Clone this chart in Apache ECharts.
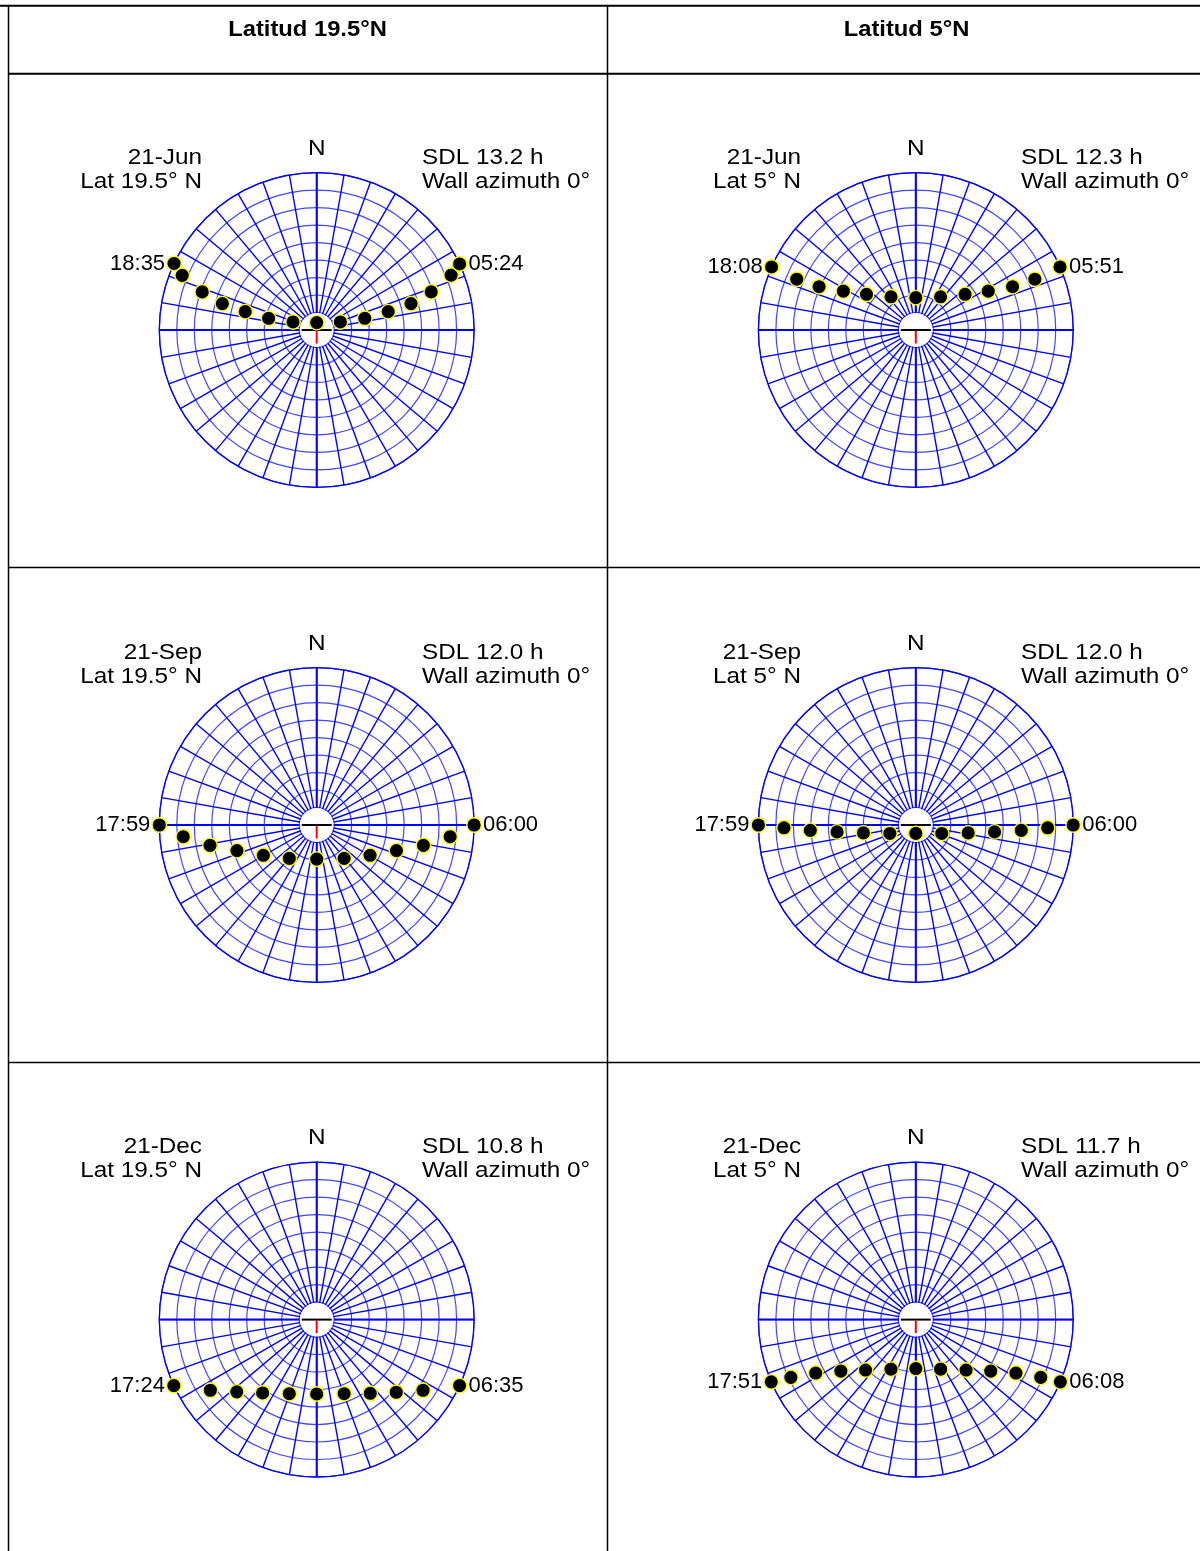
<!DOCTYPE html>
<html><head><meta charset="utf-8">
<script src="https://cdn.jsdelivr.net/npm/echarts@6/dist/echarts.min.js"></script>
<style>html,body{margin:0;padding:0;background:#fff}#c{width:1200px;height:1551px}</style>
</head><body><div id="c"></div>
<script>
// ---- DATA ----
const columnTitles = ['Latitud 19.5°N', 'Latitud 5°N'];
const dateLabels = ['21-Jun', '21-Jun', '21-Sep', '21-Sep', '21-Dec', '21-Dec'];
const latLabels = ['Lat 19.5° N', 'Lat 5° N', 'Lat 19.5° N', 'Lat 5° N', 'Lat 19.5° N', 'Lat 5° N'];
const sdlLabels = ['SDL 13.2 h', 'SDL 12.3 h', 'SDL 12.0 h', 'SDL 12.0 h', 'SDL 10.8 h', 'SDL 11.7 h'];
const wallLabels = ['Wall azimuth 0°', 'Wall azimuth 0°', 'Wall azimuth 0°', 'Wall azimuth 0°', 'Wall azimuth 0°', 'Wall azimuth 0°'];
const riseTimes = ['05:24', '05:51', '06:00', '06:00', '06:35', '06:08'];
const setTimes = ['18:35', '18:08', '17:59', '17:59', '17:24', '17:51'];

// Sun positions, sunrise -> sunset: azimuth (deg from N, clockwise), altitude (deg)
const jun195Az  = [65.2, 67.8, 71.6, 74.4, 75.6, 76.3, 71.3, 0, 288.7, 283.7, 284.4, 285.6, 288.4, 292.1, 295.0];
const jun195Alt = [0, 7.0, 21.0, 34.0, 47.8, 61.7, 75.7, 85.8, 75.7, 61.7, 47.8, 34.0, 21.0, 7.0, 0];
const jun5Az    = [66.4, 66.9, 65.9, 61.8, 54.1, 36.7, 0, 323.3, 305.9, 298.2, 294.1, 293.1, 293.6];
const jun5Alt   = [0, 16.0, 29.4, 43.0, 55.2, 66.3, 71.5, 66.3, 55.2, 43.0, 29.4, 16.0, 0];
const sep195Az  = [90, 95.0, 100.8, 107.8, 119.6, 140.6, 180, 219.4, 240.4, 252.2, 259.2, 265.0, 270];
const sep195Alt = [0, 13.4, 27.9, 42.1, 54.9, 65.3, 70.5, 65.3, 54.9, 42.1, 27.9, 13.4, 0];
const sep5Az    = [90, 91.2, 92.9, 95.0, 98.6, 108.0, 180, 252.0, 261.4, 265.0, 267.1, 268.8, 270];
const sep5Alt   = [0, 14.6, 29.6, 44.8, 59.7, 74.4, 85.2, 74.4, 59.7, 44.8, 29.6, 14.6, 0];
const dec195Az  = [114.8, 123.6, 132.4, 144.0, 159.7, 180, 200.3, 216.4, 227.9, 236.4, 245.2];
const dec195Alt = [0, 17.0, 28.4, 37.9, 44.8, 47.5, 44.8, 37.9, 28.4, 17.0, 0];
const dec5Az    = [113.3, 114.8, 118.1, 124.5, 135.1, 153.4, 180, 206.6, 224.9, 235.5, 241.9, 245.2, 246.7];
const dec5Alt   = [0, 11.3, 25.1, 38.0, 49.3, 58.3, 62.0, 58.3, 49.3, 38.0, 25.1, 11.3, 0];

const panelAz  = [jun195Az, jun5Az, sep195Az, sep5Az, dec195Az, dec5Az];
const panelAlt = [jun195Alt, jun5Alt, sep195Alt, sep5Alt, dec195Alt, dec5Alt];

// ---- LAYOUT ----
const FONT = "'Liberation Sans', Arial, sans-serif";
const R = 157.4;
const CX = [316.7, 915.8];
const CY = [330, 825, 1319.6];
const STRETCH = 1.08;

const polar = [], angleAxis = [], radiusAxis = [], series = [], graphic = [];

function txt(x, y, text, align, opts) {
  opts = opts || {};
  return {
    type: 'text', x: x, y: y, scaleX: opts.scaleX || STRETCH, z: 20,
    style: {
      text: text, fill: '#000', fontSize: opts.size || 22.5, fontFamily: FONT,
      fontWeight: opts.weight || 'normal',
      align: align, textAlign: align, verticalAlign: 'middle', textVerticalAlign: 'middle'
    }
  };
}

for (let i = 0; i < 6; i++) {
  const cx = CX[i % 2], cy = CY[Math.floor(i / 2)];
  polar.push({ center: [cx, cy], radius: R });
  angleAxis.push({
    polarIndex: i, type: 'value', min: 0, max: 360, interval: 10, startAngle: 90, clockwise: true,
    axisLine: { show: true, lineStyle: { color: '#0000ff', width: 1.3 } },
    axisTick: { show: false }, axisLabel: { show: false },
    splitLine: { show: true, lineStyle: { color: '#0000ff', width: 1.4 } }
  });
  radiusAxis.push({
    polarIndex: i, type: 'value', min: 0, max: 90, interval: 10, inverse: true,
    axisLine: { show: false }, axisTick: { show: false }, axisLabel: { show: false },
    splitLine: { show: true, lineStyle: { color: '#4545ff', width: 1.2 } }
  });
}
// heavier N-S / E-W lines
for (let i = 0; i < 6; i++) {
  const cx = CX[i % 2], cy = CY[Math.floor(i / 2)];
  polar.push({ center: [cx, cy], radius: R });
  angleAxis.push({
    polarIndex: 6 + i, type: 'value', min: 0, max: 360, interval: 90, startAngle: 90, clockwise: true,
    axisLine: { show: false }, axisTick: { show: false }, axisLabel: { show: false },
    splitLine: { show: true, lineStyle: { color: '#0000ff', width: 2 } }
  });
  radiusAxis.push({ polarIndex: 6 + i, type: 'value', min: 0, max: 90, inverse: true, show: false });
}

for (let i = 0; i < 6; i++) {
  const cx = CX[i % 2], cy = CY[Math.floor(i / 2)];
  const az = panelAz[i], alt = panelAlt[i], n = az.length;
  const data = [];
  for (let k = 1; k < n - 1; k++) data.push({ value: [alt[k], az[k]] });
  data.push({ value: [alt[0], az[0]], label: { show: true, position: 'right', formatter: riseTimes[i] } });
  data.push({ value: [alt[n - 1], az[n - 1]], label: { show: true, position: 'left', formatter: setTimes[i] } });
  series.push({
    type: 'scatter', coordinateSystem: 'polar', polarIndex: i, data: data,
    symbol: 'circle', symbolSize: 14.5, z: 10, silent: true,
    itemStyle: { color: '#000000', borderColor: '#ffff00', borderWidth: 1.4, opacity: 1 },
    label: { show: false, fontSize: 22, color: '#000', fontFamily: FONT, distance: 1 },
    emphasis: { disabled: true }
  });

  // white centre and wall marker
  graphic.push({ type: 'circle', z: 5, shape: { cx: cx, cy: cy, r: R / 9 - 0.6 }, style: { fill: '#ffffff' } });
  graphic.push({ type: 'line', z: 6, shape: { x1: cx - 15, y1: cy, x2: cx + 15, y2: cy }, style: { stroke: '#000', lineWidth: 2 } });
  graphic.push({ type: 'line', z: 6, shape: { x1: cx, y1: cy + 1, x2: cx, y2: cy + 13.5 }, style: { stroke: '#ff0000', lineWidth: 2 } });

  // captions
  graphic.push(txt(cx, cy - 181.5, 'N', 'center'));
  graphic.push(txt(cx - 114.7, cy - 172.5, dateLabels[i], 'right'));
  graphic.push(txt(cx - 114.7, cy - 148.5, latLabels[i], 'right'));
  graphic.push(txt(cx + 105.3, cy - 172.5, sdlLabels[i], 'left'));
  graphic.push(txt(cx + 105.3, cy - 148.5, wallLabels[i], 'left'));
}

// column headers
graphic.push(txt(307.5, 30, columnTitles[0], 'center', { weight: 'bold', size: 22, scaleX: 1.08 }));
graphic.push(txt(906.5, 30, columnTitles[1], 'center', { weight: 'bold', size: 22, scaleX: 1.08 }));

// table rules
function rule(x1, y1, x2, y2, w) {
  return { type: 'line', z: 1, shape: { x1: x1, y1: y1, x2: x2, y2: y2 }, style: { stroke: '#000', lineWidth: w } };
}
graphic.push(rule(0, 5.7, 1200, 5.7, 2));
graphic.push(rule(8, 73.7, 1200, 73.7, 2));
graphic.push(rule(8, 567.5, 1200, 567.5, 1.5));
graphic.push(rule(8, 1062.5, 1200, 1062.5, 1.5));
graphic.push(rule(8.5, 5, 8.5, 1551, 1.5));
graphic.push(rule(607.5, 5, 607.5, 1551, 1.5));

const chart = echarts.init(document.getElementById('c'), null, { renderer: 'canvas' });
chart.setOption({
  animation: false,
  backgroundColor: '#ffffff',
  polar: polar, angleAxis: angleAxis, radiusAxis: radiusAxis,
  series: series, graphic: graphic
});
</script></body></html>
